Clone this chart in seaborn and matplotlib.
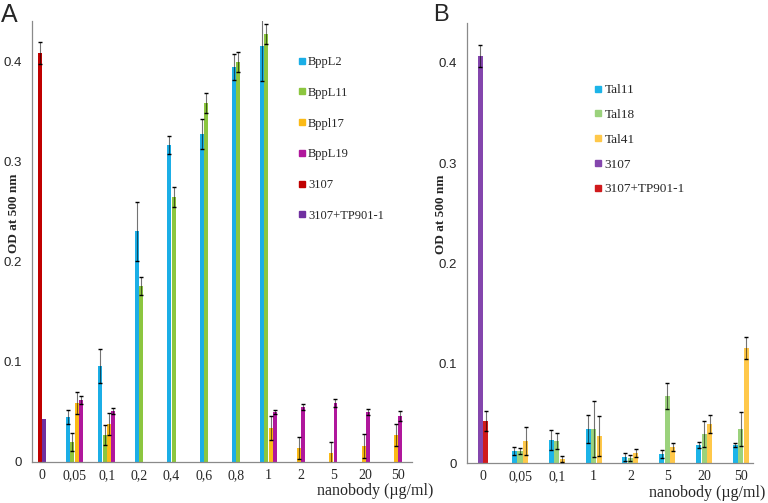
import numpy as np
import pandas as pd
import matplotlib
matplotlib.use("Agg")
import matplotlib.pyplot as plt
import seaborn as sns
from matplotlib.lines import Line2D

nan = np.nan

# ---------------- Panel A data ----------------
cats_a = ["0", "0,05", "0,1", "0,2", "0,4", "0,6", "0,8", "1", "2", "5", "20", "50"]
series_a = ["BppL2", "BppL11", "Bppl17", "BppL19", "3107", "3107+TP901-1"]
colors_a = ["#1BAEE6", "#8CC63F", "#FBBA16", "#B0179C", "#C00000", "#7030A0"]

bppl2_val = [nan, 0.045, 0.096, 0.230, 0.316, 0.327, 0.394, 0.415, nan, nan, nan, nan]
bppl2_err = [nan, 0.007, 0.017, 0.029, 0.009, 0.015, 0.013, 0.035, nan, nan, nan, nan]
bppl11_val = [nan, 0.020, 0.027, 0.176, 0.264, 0.358, 0.399, 0.427, nan, nan, nan, nan]
bppl11_err = [nan, 0.009, 0.010, 0.009, 0.010, 0.010, 0.010, 0.010, nan, nan, nan, nan]
bppl17_val = [nan, 0.059, 0.038, nan, nan, nan, nan, 0.034, 0.014, 0.009, 0.016, 0.027]
bppl17_err = [nan, 0.011, 0.011, nan, nan, nan, nan, 0.012, 0.011, 0.011, 0.012, 0.011]
bppl19_val = [nan, 0.062, 0.051, nan, nan, nan, nan, 0.050, 0.055, 0.059, 0.050, 0.046]
bppl19_err = [nan, 0.004, 0.003, nan, nan, nan, nan, 0.002, 0.003, 0.004, 0.003, 0.005]
a3107_val = [0.408, nan, nan, nan, nan, nan, nan, nan, nan, nan, nan, nan]
a3107_err = [0.011, nan, nan, nan, nan, nan, nan, nan, nan, nan, nan, nan]
a3107tp_val = [0.043, nan, nan, nan, nan, nan, nan, nan, nan, nan, nan, nan]
a3107tp_err = [nan, nan, nan, nan, nan, nan, nan, nan, nan, nan, nan, nan]

vals_a = [bppl2_val, bppl11_val, bppl17_val, bppl19_val, a3107_val, a3107tp_val]
errs_a = [bppl2_err, bppl11_err, bppl17_err, bppl19_err, a3107_err, a3107tp_err]

# ---------------- Panel B data ----------------
cats_b = ["0", "0,05", "0,1", "1", "2", "5", "20", "50"]
series_b = ["Tal11", "Tal18", "Tal41", "3107", "3107+TP901-1"]
colors_b = ["#1CB4E8", "#9BD27C", "#FFC84A", "#8446AD", "#D01A1C"]

tal11_val = [nan, 0.012, 0.023, 0.034, 0.006, 0.009, 0.018, 0.018]
tal11_err = [nan, 0.004, 0.010, 0.014, 0.004, 0.004, 0.003, 0.002]
tal18_val = [nan, 0.012, 0.022, 0.034, 0.005, 0.067, 0.029, 0.034]
tal18_err = [nan, 0.003, 0.008, 0.028, 0.003, 0.013, 0.013, 0.017]
tal41_val = [nan, 0.022, 0.004, 0.027, 0.010, 0.016, 0.039, 0.115]
tal41_err = [nan, 0.014, 0.003, 0.020, 0.004, 0.004, 0.009, 0.011]
b3107_val = [0.407, nan, nan, nan, nan, nan, nan, nan]
b3107_err = [0.011, nan, nan, nan, nan, nan, nan, nan]
b3107tp_val = [0.042, nan, nan, nan, nan, nan, nan, nan]
b3107tp_err = [0.010, nan, nan, nan, nan, nan, nan, nan]

vals_b = [tal11_val, tal18_val, tal41_val, b3107_val, b3107tp_val]
errs_b = [tal11_err, tal18_err, tal41_err, b3107_err, b3107tp_err]

yticks = [0, 0.1, 0.2, 0.3, 0.4]
ytick_labels = ["0", "0.1", "0.2", "0.3", "0.4"]

SERIF = "Liberation Serif"
SANS = "Liberation Sans"
AXIS_GREY = "#8a8a8a"


def build_long(cats, series, vals, errs, step):
    rows = []
    for ci, c in enumerate(cats):
        present = [si for si in range(len(series)) if not np.isnan(vals[si][ci])]
        n = len(present)
        for rank, si in enumerate(present):
            rows.append({
                "cat": c,
                "series": series[si],
                "value": vals[si][ci],
                "err": errs[si][ci],
                "pos": ci + (rank - (n - 1) / 2) * step,
            })
    return pd.DataFrame(rows)


def draw_panel(ax, cats, series, colors, vals, errs, step, xlim, ylab_xy):
    df = build_long(cats, series, vals, errs, step)
    sns.barplot(data=df, x="pos", y="value", hue="series", hue_order=series,
                palette=colors, native_scale=True, dodge=False, width=0.92,
                errorbar=None, legend=False, saturation=1, linewidth=0, ax=ax)
    d = df.dropna(subset=["err"])
    eb = ax.errorbar(d["pos"], d["value"], yerr=d["err"], fmt="none",
                     ecolor="black", elinewidth=0.8, capsize=1.6, capthick=1.0,
                     alpha=0.55, zorder=5)
    for cl in eb[1]:
        cl.set_alpha(1.0)
    ax.set_xlim(*xlim)
    ax.set_ylim(0, 0.44)
    ax.set_xticks(range(len(cats)))
    ax.set_xticklabels(cats, fontfamily=SERIF, fontsize=10)
    ax.set_xticks(np.arange(0.5, len(cats) - 1, 1), minor=True)
    ax.tick_params(axis="x", which="major", length=0, pad=5)
    ax.tick_params(axis="x", which="minor", length=4, width=0.8, color=AXIS_GREY, direction="out")
    ax.set_yticks(yticks)
    ax.set_yticklabels(ytick_labels, fontfamily=SANS, fontsize=9.5)
    ax.tick_params(axis="y", length=4, width=0.8, color=AXIS_GREY, direction="out", pad=3)
    ax.set_xlabel("")
    ax.set_ylabel("OD at 500 nm", fontfamily=SERIF, fontweight="bold", fontsize=9.5)
    ax.yaxis.set_label_coords(*ylab_xy)
    for s in ["top", "right"]:
        ax.spines[s].set_visible(False)
    for s in ["left", "bottom"]:
        ax.spines[s].set_color(AXIS_GREY)
        ax.spines[s].set_linewidth(0.9)
    ax.grid(False)


sns.set_style("white")
fig = plt.figure(figsize=(7.68, 5.03), dpi=100)
W, H = 768, 503

ax_a = fig.add_axes([32 / W, (H - 462) / H, 380 / W, 441 / H])
ax_b = fig.add_axes([467 / W, (H - 463) / H, 286 / W, 440 / H])

draw_panel(ax_a, cats_a, series_a, colors_a, vals_a, errs_a, 0.133, (-0.31, 11.43),
           ((20 - 32) / 380, (462 - 213) / 441))
draw_panel(ax_b, cats_b, series_b, colors_b, vals_b, errs_b, 0.15, (-0.44, 7.33),
           ((447 - 467) / 286, (463 - 214) / 440))

# legends
hand_a = [Line2D([], [], marker="s", linestyle="none", markersize=5, color=c) for c in colors_a]
fig.legend(hand_a, series_a, loc="upper left", bbox_to_anchor=(298 / W, 1 - 56 / H),
           frameon=False, prop={"family": SERIF, "size": 9}, handlelength=0.6,
           handletextpad=0.2, labelspacing=1.5, borderpad=0, borderaxespad=0)
hand_b = [Line2D([], [], marker="s", linestyle="none", markersize=5, color=c) for c in colors_b]
fig.legend(hand_b, series_b, loc="upper left", bbox_to_anchor=(594 / W, 1 - 84 / H),
           frameon=False, prop={"family": SERIF, "size": 9.5}, handlelength=0.6,
           handletextpad=0.2, labelspacing=0.95, borderpad=0, borderaxespad=0)

# axis titles
fig.text(433 / W, 1 - 491 / H, "nanobody (\u00b5g/ml)", ha="right", va="center",
         fontfamily=SERIF, fontsize=11.5)
fig.text(765 / W, 1 - 493 / H, "nanobody (\u00b5g/ml)", ha="right", va="center",
         fontfamily=SERIF, fontsize=11.5)

# panel letters
fig.text(1 / W, 1 - 3 / H, "A", ha="left", va="top", fontfamily=SANS, fontsize=18)
fig.text(433 / W, 1 - 4 / H, "B", ha="left", va="top", fontfamily=SANS, fontsize=17)

fig.savefig("out.png", dpi=100)
